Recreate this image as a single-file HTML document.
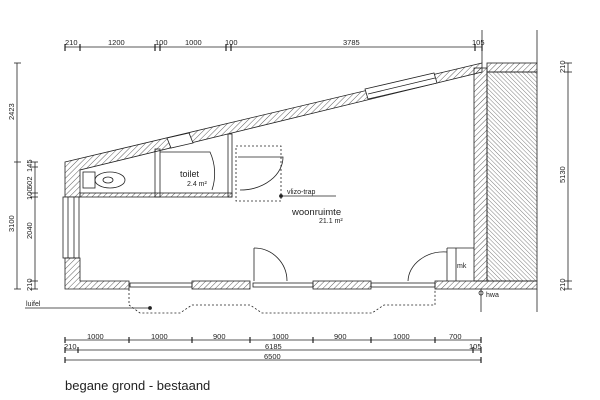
<!DOCTYPE html>
<html><head><meta charset="utf-8"><style>
html,body{margin:0;padding:0;background:#fff;}
svg{display:block;font-family:"Liberation Sans",sans-serif;}
</style></head><body>
<svg width="600" height="400" viewBox="0 0 600 400" xmlns="http://www.w3.org/2000/svg">
<defs>
<pattern id="h" width="4" height="4" patternUnits="userSpaceOnUse" patternTransform="rotate(45)">
<line x1="0" y1="0" x2="0" y2="4" stroke="#333" stroke-width="0.8"/></pattern>
<pattern id="h2" width="3" height="3" patternUnits="userSpaceOnUse" patternTransform="rotate(-45)">
<line x1="0" y1="0" x2="0" y2="3" stroke="#444" stroke-width="0.7"/></pattern>
</defs>
<g stroke="#222" stroke-width="0.8" fill="none">
<line x1="65" y1="47" x2="482" y2="47"/>
<g stroke-width="1.2">
<line x1="65" y1="44" x2="65" y2="51"/><line x1="80" y1="44" x2="80" y2="51"/>
<line x1="155" y1="44" x2="155" y2="51"/><line x1="160" y1="44" x2="160" y2="51"/>
<line x1="226" y1="44" x2="226" y2="51"/><line x1="231" y1="44" x2="231" y2="51"/>
<line x1="475" y1="44" x2="475" y2="51"/><line x1="482" y1="44" x2="482" y2="51"/>
</g>
<line x1="482" y1="30" x2="482" y2="63"/><line x1="537" y1="30" x2="537" y2="63"/>
<line x1="17" y1="63" x2="17" y2="289"/>
<line x1="14" y1="63" x2="21" y2="63"/><line x1="14" y1="162" x2="21" y2="162"/><line x1="14" y1="289" x2="21" y2="289"/>
<line x1="35" y1="162" x2="35" y2="289"/>
<line x1="30" y1="162" x2="38" y2="162"/><line x1="30" y1="167" x2="38" y2="167"/><line x1="30" y1="193" x2="38" y2="193"/><line x1="30" y1="197" x2="38" y2="197"/><line x1="30" y1="281" x2="38" y2="281"/><line x1="30" y1="289" x2="38" y2="289"/>
<line x1="568" y1="63" x2="568" y2="289"/>
<line x1="564" y1="63" x2="572" y2="63"/><line x1="564" y1="72" x2="572" y2="72"/><line x1="564" y1="281" x2="572" y2="281"/><line x1="564" y1="289" x2="572" y2="289"/>
<polygon points="65,162 482,63 482,72 80,170 80,197 65,197" fill="url(#h)"/>
<rect x="474" y="68" width="13" height="213" fill="url(#h)"/>
<rect x="487" y="63" width="50" height="9" fill="url(#h)"/>
<rect x="487" y="72" width="50" height="209" fill="url(#h2)"/>
<polygon points="167,138 189,133 193,143 171,148" fill="#fff"/>
<polygon points="365,89 434,73 437,83 368,99" fill="#fff"/>
<line x1="368" y1="94" x2="435" y2="78"/>
<rect x="63" y="197" width="16" height="61" fill="#fff"/>
<line x1="68" y1="197" x2="68" y2="258"/><line x1="74" y1="197" x2="74" y2="258"/>
<polygon points="65,258 80,258 80,281 129,281 129,289 65,289" fill="url(#h)"/>
<rect x="192" y="281" width="58" height="8" fill="url(#h)"/>
<rect x="313" y="281" width="58" height="8" fill="url(#h)"/>
<rect x="435" y="281" width="102" height="8" fill="url(#h)"/>
<rect x="130" y="283" width="62" height="4"/><rect x="253" y="283" width="60" height="4"/><rect x="371" y="283" width="64" height="4"/>
<line x1="254" y1="248" x2="254" y2="281"/><path d="M254,248 A33,33 0 0 1 287,281"/>
<line x1="447" y1="248" x2="447" y2="281"/><line x1="456" y1="248" x2="456" y2="281"/><line x1="447" y1="248" x2="474" y2="248"/>
<path d="M447,252 A36,30 0 0 0 408,281"/>
<rect x="80" y="193" width="152" height="4" fill="url(#h)"/>
<rect x="155" y="149" width="5" height="48"/><rect x="228" y="134" width="4" height="63"/>
<path d="M160,152 L210,152 A52,52 0 0 1 212,190"/>
<rect x="83" y="172" width="12" height="16"/><ellipse cx="110" cy="180" rx="15" ry="8"/><ellipse cx="108" cy="180" rx="5" ry="3"/>
<rect x="236" y="146" width="45" height="55" stroke-dasharray="2,2"/>
<path d="M238,157 L283,157 A43,33 0 0 1 240,190"/>
<line x1="281" y1="196" x2="336" y2="196"/><circle cx="281" cy="196" r="1.5" fill="#222"/>
<path d="M129,289 V305 L140,313 H180 L192,305 H250 L262,313 H372 L384,305 H435 V289" stroke-dasharray="2,2"/>
<line x1="25" y1="308" x2="150" y2="308"/><circle cx="150" cy="308" r="1.5" fill="#222"/>
<line x1="481" y1="289" x2="481" y2="312"/><line x1="537" y1="289" x2="537" y2="312"/>
<circle cx="481" cy="293" r="2"/>
<line x1="65" y1="340" x2="481" y2="340"/><line x1="65" y1="350" x2="481" y2="350"/><line x1="65" y1="360" x2="481" y2="360"/>
<g stroke-width="1.2">
<line x1="65" y1="337" x2="65" y2="343"/><line x1="129" y1="337" x2="129" y2="343"/><line x1="192" y1="337" x2="192" y2="343"/><line x1="250" y1="337" x2="250" y2="343"/><line x1="313" y1="337" x2="313" y2="343"/><line x1="371" y1="337" x2="371" y2="343"/><line x1="435" y1="337" x2="435" y2="343"/><line x1="481" y1="337" x2="481" y2="343"/>
<line x1="65" y1="347" x2="65" y2="353"/><line x1="78" y1="347" x2="78" y2="353"/><line x1="473" y1="347" x2="473" y2="353"/><line x1="481" y1="347" x2="481" y2="353"/>
<line x1="65" y1="357" x2="65" y2="363"/><line x1="481" y1="357" x2="481" y2="363"/>
</g>
</g>
<g fill="#222" font-size="7.5">
<text x="65" y="45">210</text><text x="108" y="45">1200</text><text x="155" y="45">100</text><text x="185" y="45">1000</text><text x="225" y="45">100</text><text x="343" y="45">3785</text><text x="472" y="45">105</text>
<text x="87" y="339">1000</text><text x="151" y="339">1000</text><text x="213" y="339">900</text><text x="272" y="339">1000</text><text x="334" y="339">900</text><text x="393" y="339">1000</text><text x="449" y="339">700</text>
<text x="64" y="349">210</text><text x="265" y="349">6185</text><text x="469" y="349">105</text>
<text x="264" y="359">6500</text>
<g transform="rotate(-90)">
<text x="-120" y="14">2423</text><text x="-232" y="14">3100</text>
<text x="-172" y="32">145</text><text x="-189" y="32">602</text><text x="-200" y="32">100</text><text x="-239" y="32">2040</text><text x="-291" y="32">210</text>
<text x="-73" y="565">210</text><text x="-183" y="565">5130</text><text x="-291" y="565">210</text>
</g>
<text x="180" y="177" font-size="9">toilet</text><text x="187" y="186" font-size="7">2.4  m²</text>
<text x="287" y="194" font-size="7">vlizo-trap</text>
<text x="292" y="215" font-size="9.5">woonruimte</text><text x="319" y="223" font-size="7">21.1 m²</text>
<text x="457" y="268" font-size="7">mk</text>
<text x="486" y="297" font-size="7">hwa</text>
<text x="26" y="306" font-size="7">luifel</text>
<text x="65" y="390" font-size="13">begane grond - bestaand</text>
</g>
</svg>
</body></html>
